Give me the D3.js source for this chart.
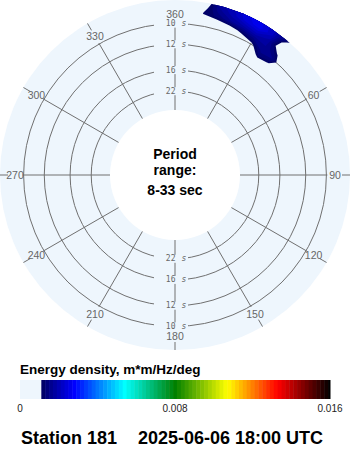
<!DOCTYPE html>
<html><head><meta charset="utf-8">
<script src="https://cdn.jsdelivr.net/npm/d3@7/dist/d3.min.js"></script>
<style>html,body{margin:0;padding:0;background:#fff;}svg{display:block;}</style>
</head><body>
<svg id="chart" width="350" height="450"></svg>
<script>
// ---------- data ----------
const directions = [0, 5, 10, 15, 20, 25, 30, 35, 40, 45, 50];           // deg
const frequencies = [0.085, 0.09, 0.095, 0.1, 0.105, 0.11, 0.115, 0.12, 0.125, 0.13]; // Hz
// energy density rows (one per frequency), columns follow directions
const energy085 = [0, 0, 0, 0, 0, 0, 0.0001, 0.0002, 0.0002, 0.0001, 0];
const energy090 = [0, 0, 0, 0, 0.0001, 0.0002, 0.0003, 0.0006, 0.0005, 0.0002, 0];
const energy095 = [0, 0, 0, 0.0001, 0.0002, 0.0003, 0.0005, 0.0013, 0.00105, 0.0003, 0];
const energy100 = [0, 0, 0, 0.0002, 0.0004, 0.0007, 0.00095, 0.0016, 0.0015, 0.0005, 0];
const energy105 = [0, 0, 0.0003, 0.0008, 0.0009, 0.0012, 0.0015, 0.0017, 0.0012, 0.0004, 0];
const energy110 = [0, 0, 0.00115, 0.00135, 0.0017, 0.0019, 0.0021, 0.0018, 0.0006, 0.0002, 0];
const energy115 = [0, 0, 0.00095, 0.0016, 0.002, 0.0024, 0.0026, 0.0021, 0.0008, 0.0003, 0];
const energy120 = [0, 0, 0.0005, 0.0018, 0.0021, 0.0025, 0.0025, 0.0021, 0.0014, 0.0004, 0];
const energy125 = [0, 0, 0.0003, 0.0018, 0.002, 0.0021, 0.0021, 0.0019, 0.0013, 0.0004, 0];
const energy130 = [0, 0, 0.0002, 0.0016, 0.0017, 0.0018, 0.0018, 0.0017, 0.0012, 0.0003, 0];
const energyRows = [energy085, energy090, energy095, energy100, energy105, energy110, energy115, energy120, energy125, energy130];

const periodRings = [10, 12, 16, 22];                 // s
const periodRange = [8.4, 33];                         // s (outer edge, inner edge)
const periodRangeLabel = "8-33 sec";
const directionTicks = [0, 30, 60, 90, 120, 150, 180, 210, 240, 270, 300, 330];
const directionLabels = ["360", "30", "60", "90", "120", "150", "180", "210", "240", "270", "300", "330"];

const colorStops = [0.0011, 0.0028, 0.0054, 0.008, 0.0107, 0.0133, 0.016];
const colorValues = ["#000060", "#0000ff", "#00ffff", "#008000", "#ffff00", "#ff0000", "#000000"];
const legendTicks = [0, 0.008, 0.016];
const legendTickLabels = ["0", "0.008", "0.016"];
const minEnergy = 0.0011, maxEnergy = 0.016, bandStep = 0.0002;

// ---------- layout ----------
const svg = d3.select("#chart");
const cx = 175, cy = 175, R = 175, rInner = 65;
const diskColor = "#eef6fd", gridColor = "#707070", labelColor = "#666";

const rScale = d3.scaleLinear().domain([1 / periodRange[1], 1 / periodRange[0]]).range([rInner, R]);
const color = d3.scaleLinear().domain(colorStops).range(colorValues).clamp(true);
const rad = d => d * Math.PI / 180;
const px = (a, r) => cx + r * Math.sin(rad(a));
const py = (a, r) => cy - r * Math.cos(rad(a));

const defs = svg.append("defs");
defs.append("clipPath").attr("id", "diskClip").append("circle").attr("cx", cx).attr("cy", cy).attr("r", R);

svg.append("circle").attr("cx", cx).attr("cy", cy).attr("r", R).attr("fill", diskColor);

const grid = svg.append("g");
// rings
grid.selectAll("circle.ring").data(periodRings).join("circle")
  .attr("cx", cx).attr("cy", cy).attr("r", p => rScale(1 / p))
  .attr("fill", "none").attr("stroke", gridColor).attr("stroke-width", 1);
// radial lines
const rOuterLine = rScale(1 / periodRings[0]) + 1;
grid.selectAll("line.spoke").data(directionTicks).join("line")
  .attr("x1", a => px(a, rInner)).attr("y1", a => py(a, rInner))
  .attr("x2", a => px(a, rOuterLine)).attr("y2", a => py(a, rOuterLine))
  .attr("stroke", gridColor).attr("stroke-width", 1);
// outer ticks
grid.selectAll("line.tick").data(directionTicks.filter(a => a !== 0)).join("line")
  .attr("x1", a => px(a, 167)).attr("y1", a => py(a, 167))
  .attr("x2", a => px(a, 175)).attr("y2", a => py(a, 175))
  .attr("stroke", gridColor).attr("stroke-width", 1);
// direction labels
grid.selectAll("text.dir").data(directionTicks).join("text")
  .attr("x", a => px(a, 160)).attr("y", a => py(a, 160) + (a === 0 ? -1 : a === 180 ? 1 : 0))
  .attr("text-anchor", "middle").attr("dominant-baseline", "central")
  .attr("font-family", "Liberation Sans, Arial, sans-serif").attr("font-size", 10.5)
  .attr("fill", labelColor)
  .text((a, i) => directionLabels[i]);

// ring labels (top and bottom)
const ringLabelData = [];
periodRings.forEach(p => { const r = rScale(1 / p); ringLabelData.push({p, y: cy - r}); ringLabelData.push({p, y: cy + r}); });
const rl = grid.selectAll("g.rl").data(ringLabelData).join("g");
rl.append("rect").attr("x", 154).attr("y", d => d.y - 4).attr("width", 34).attr("height", 8).attr("fill", diskColor);
rl.append("text").attr("x", 175.5).attr("y", d => d.y).attr("text-anchor", "end").attr("dominant-baseline", "central")
  .attr("font-family", "DejaVu Sans Mono, monospace").attr("font-size", 8).attr("fill", labelColor).text(d => d.p);
rl.append("text").attr("x", 181.5).attr("y", d => d.y).attr("text-anchor", "start").attr("dominant-baseline", "central")
  .attr("font-family", "DejaVu Sans Mono, monospace").attr("font-size", 8).attr("font-style", "italic").attr("fill", labelColor).text("s");

// energy spectrum (filled contours)
const nA = directions.length, nF = frequencies.length;
const flat = [];
energyRows.forEach(row => row.forEach(v => flat.push(v)));
const dA = directions[1] - directions[0], dF = frequencies[1] - frequencies[0];
const thresholds = d3.range(minEnergy, maxEnergy, bandStep);
const contours = d3.contours().size([nA, nF]).thresholds(thresholds)(flat);
const toXY = ([gx, gy]) => {
  const a = directions[0] + (gx - 0.5) * dA;
  const f = frequencies[0] + (gy - 0.5) * dF;
  const r = rScale(f);
  return [px(a, r), py(a, r)];
};
const lineGen = d3.line();
const polyPath = mp => mp.coordinates.map(poly => poly.map(ring => lineGen(ring.map(toXY)) + "Z").join("")).join("");
svg.append("g").attr("clip-path", "url(#diskClip)")
  .selectAll("path").data(contours.filter(c => c.coordinates.length)).join("path")
  .attr("d", polyPath).attr("fill", c => color(c.value + bandStep / 2)).attr("stroke", "none");

// center
svg.append("circle").attr("cx", cx).attr("cy", cy).attr("r", rInner).attr("fill", "#fff");
const centerText = svg.append("g").attr("font-family", "Liberation Sans, Arial, sans-serif").attr("font-weight", "bold")
  .attr("font-size", 14).attr("text-anchor", "middle").attr("fill", "#000");
centerText.append("text").attr("x", cx).attr("y", 159).text("Period");
centerText.append("text").attr("x", cx).attr("y", 175).text("range:");
centerText.append("text").attr("x", cx).attr("y", 195).text(periodRangeLabel);

// legend
const lx = d3.scaleLinear().domain([0, maxEnergy]).range([20, 330]);
svg.append("text").attr("x", 20).attr("y", 374).attr("font-family", "Liberation Sans, Arial, sans-serif")
  .attr("font-weight", "bold").attr("font-size", 13.5).attr("fill", "#000").text("Energy density, m*m/Hz/deg");
const legend = svg.append("g");
legend.append("rect").attr("x", lx(0)).attr("y", 380).attr("width", lx(minEnergy) - lx(0)).attr("height", 19).attr("fill", diskColor);
legend.selectAll("rect.band").data(thresholds).join("rect")
  .attr("x", t => lx(t)).attr("y", 380)
  .attr("width", t => lx(Math.min(t + bandStep, maxEnergy)) - lx(t) + 0.5).attr("height", 19)
  .attr("fill", t => color(t + bandStep / 2));
legend.selectAll("text.lt").data(legendTicks).join("text")
  .attr("x", t => lx(t)).attr("y", 412).attr("text-anchor", "middle")
  .attr("font-family", "Liberation Sans, Arial, sans-serif").attr("font-size", 10).attr("fill", "#222")
  .text((t, i) => legendTickLabels[i]);

const footer = svg.append("g").attr("font-family", "Liberation Sans, Arial, sans-serif").attr("font-weight", "bold")
  .attr("font-size", 18).attr("fill", "#000");
footer.append("text").attr("x", 21).attr("y", 444).text("Station 181");
footer.append("text").attr("x", 138).attr("y", 444).text("2025-06-06 18:00 UTC");
</script>
</body></html>
